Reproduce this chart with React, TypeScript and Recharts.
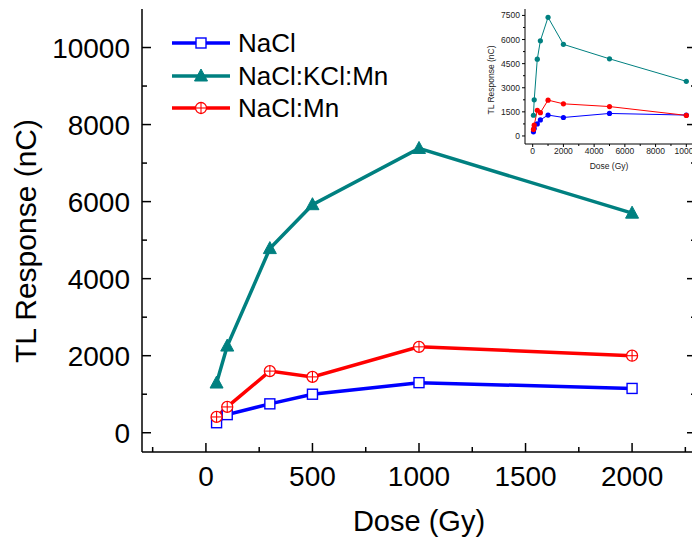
import { Legend, Line, LineChart, XAxis, YAxis } from 'recharts';

// main plot
const mainDoses = [50, 100, 300, 500, 1000, 2000];
const naclMain = [260, 470, 750, 1000, 1300, 1150];
const kclMain = [1290, 2250, 4780, 5920, 7380, 5700];
const mnMain = [410, 670, 1600, 1450, 2230, 2000];

// inset
const insetDoses = [50, 100, 300, 500, 1000, 2000, 5000, 10000];
const naclInset = [260, 470, 750, 1000, 1300, 1150, 1400, 1300];
const kclInset = [1290, 2250, 4780, 5920, 7380, 5700, 4800, 3400];
const mnInset = [410, 670, 1600, 1450, 2230, 2000, 1830, 1280];

const mainXTicks = [-250, 0, 250, 500, 750, 1000, 1250, 1500, 1750, 2000, 2250];
const mainYTicks = [0, 1000, 2000, 3000, 4000, 5000, 6000, 7000, 8000, 9000, 10000];
const insetXTicks = [0, 1000, 2000, 3000, 4000, 5000, 6000, 7000, 8000, 9000, 10000];
const insetYTicks = [0, 750, 1500, 2250, 3000, 3750, 4500, 5250, 6000, 6750, 7500];

const BLUE = '#0000ff';
const TEAL = '#008080';
const RED = '#ff0000';
const FONT = '"Liberation Sans", Arial, Helvetica, sans-serif';

const mainRows = mainDoses.map((d, i) => ({
  dose: d,
  nacl: naclMain[i],
  kcl: kclMain[i],
  mn: mnMain[i],
}));

const insetRows = insetDoses.map((d, i) => ({
  dose: d,
  nacl: naclInset[i],
  kcl: kclInset[i],
  mn: mnInset[i],
}));

const SquareDot = (p: any) => (
  <rect
    key={`sq-${p.index}`}
    x={p.cx - 5}
    y={p.cy - 5}
    width={10}
    height={10}
    fill="#fff"
    stroke={BLUE}
    strokeWidth={1.4}
  />
);

const TriangleDot = (p: any) => (
  <polygon
    key={`tr-${p.index}`}
    points={`${p.cx},${p.cy - 7} ${p.cx - 6.5},${p.cy + 5} ${p.cx + 6.5},${p.cy + 5}`}
    fill={TEAL}
    stroke={TEAL}
    strokeWidth={1}
  />
);

const CirclePlusDot = (p: any) => (
  <g key={`cp-${p.index}`}>
    <circle cx={p.cx} cy={p.cy} r={5.5} fill="#fff" stroke={RED} strokeWidth={1.3} />
    <line x1={p.cx - 5.5} y1={p.cy} x2={p.cx + 5.5} y2={p.cy} stroke={RED} strokeWidth={1.1} />
    <line x1={p.cx} y1={p.cy - 5.5} x2={p.cx} y2={p.cy + 5.5} stroke={RED} strokeWidth={1.1} />
  </g>
);

const smallDot = (color: string) => (p: any) =>
  <circle key={`d-${p.index}`} cx={p.cx} cy={p.cy} r={2.6} fill={color} stroke="none" />;

// ticks drawn inward, like the original Origin plot
const MainBottomTick = (p: any) => {
  const v = p.payload.value;
  const major = v % 500 === 0;
  return (
    <g>
      <line x1={p.x} y1={p.y} x2={p.x} y2={p.y - (major ? 9 : 5)} stroke="#000" strokeWidth={1.5} />
      {major && (
        <text x={p.x} y={p.y + 34} textAnchor="middle" fontSize={28} fontFamily={FONT} fill="#000">
          {v}
        </text>
      )}
    </g>
  );
};

const MainTopTick = (p: any) => {
  const major = p.payload.value % 500 === 0;
  return <line x1={p.x} y1={p.y} x2={p.x} y2={p.y + (major ? 9 : 5)} stroke="#000" strokeWidth={1.5} />;
};

const MainLeftTick = (p: any) => {
  const v = p.payload.value;
  const major = v % 2000 === 0;
  return (
    <g>
      <line x1={p.x} y1={p.y} x2={p.x + (major ? 9 : 5)} y2={p.y} stroke="#000" strokeWidth={1.5} />
      {major && (
        <text x={p.x - 12} y={p.y + 10} textAnchor="end" fontSize={28} fontFamily={FONT} fill="#000">
          {v}
        </text>
      )}
    </g>
  );
};

const MainRightTick = (p: any) => {
  const major = p.payload.value % 2000 === 0;
  return <line x1={p.x} y1={p.y} x2={p.x - (major ? 9 : 5)} y2={p.y} stroke="#000" strokeWidth={1.5} />;
};

const InsetBottomTick = (p: any) => {
  const v = p.payload.value;
  const major = v % 2000 === 0;
  return (
    <g>
      <line x1={p.x} y1={p.y} x2={p.x} y2={p.y + (major ? 3 : 2)} stroke="#000" strokeWidth={1} />
      {major && (
        <text x={p.x} y={p.y + 9.7} textAnchor="middle" fontSize={8.5} fontFamily={FONT} fill="#222">
          {v}
        </text>
      )}
    </g>
  );
};

const InsetLeftTick = (p: any) => {
  const v = p.payload.value;
  const major = v % 1500 === 0;
  return (
    <g>
      <line x1={p.x} y1={p.y} x2={p.x - (major ? 3 : 2)} y2={p.y} stroke="#000" strokeWidth={1} />
      {major && (
        <text x={p.x - 5} y={p.y + 3} textAnchor="end" fontSize={8.5} fontFamily={FONT} fill="#222">
          {v}
        </text>
      )}
    </g>
  );
};

const markerFor = (name: string, cx: number, cy: number) => {
  if (name === 'NaCl') return <SquareDot cx={cx} cy={cy} index={0} />;
  if (name === 'NaCl:KCl:Mn') return <TriangleDot cx={cx} cy={cy} index={0} />;
  return <CirclePlusDot cx={cx} cy={cy} index={0} />;
};

const renderLegend = (props: any) => (
  <div style={{ fontFamily: FONT }}>
    {(props.payload || []).map((entry: any) => (
      <div key={entry.value} style={{ display: 'flex', alignItems: 'center', height: 32.5 }}>
        <svg width={58} height={20} style={{ display: 'block' }}>
          <line x1={0} y1={10} x2={58} y2={10} stroke={entry.color} strokeWidth={3.5} />
          {markerFor(entry.value, 29, 10)}
        </svg>
        <span style={{ marginLeft: 8, fontSize: 26, lineHeight: 1, color: '#000' }}>{entry.value}</span>
      </div>
    ))}
  </div>
);

const axisStroke = { stroke: '#000', strokeWidth: 1.5 };

export default function App() {
  return (
    <div
      style={{
        position: 'absolute',
        left: 0,
        top: 0,
        width: 692,
        height: 541,
        overflow: 'hidden',
        background: '#fff',
        fontFamily: FONT,
      }}
    >
      <LineChart width={720} height={541} data={mainRows} margin={{ top: 9, right: 23, left: 0, bottom: 29 }}>
        <XAxis
          dataKey="dose"
          type="number"
          domain={[-300, 2300]}
          allowDataOverflow
          ticks={mainXTicks}
          interval={0}
          tickSize={0}
          tickMargin={0}
          tick={MainBottomTick}
          axisLine={axisStroke}
          height={60}
          label={{
            content: () => (
              <text x={419} y={531} textAnchor="middle" fontSize={29} fontFamily={FONT} fill="#000">
                Dose (Gy)
              </text>
            ),
          }}
        />
        <XAxis
          xAxisId="top"
          orientation="top"
          dataKey="dose"
          type="number"
          domain={[-300, 2300]}
          allowDataOverflow
          ticks={mainXTicks}
          interval={0}
          tickSize={0}
          tickMargin={0}
          tick={MainTopTick}
          axisLine={axisStroke}
          height={0}
        />
        <YAxis
          type="number"
          domain={[-500, 11000]}
          allowDataOverflow
          ticks={mainYTicks}
          interval={0}
          tickSize={0}
          tickMargin={0}
          tick={MainLeftTick}
          axisLine={axisStroke}
          width={142}
          label={{
            content: () => (
              <text
                x={36}
                y={241}
                transform="rotate(-90, 36, 241)"
                textAnchor="middle"
                fontSize={30}
                fontFamily={FONT}
                fill="#000"
              >
                TL Response (nC)
              </text>
            ),
          }}
        />
        <YAxis
          yAxisId="right"
          orientation="right"
          type="number"
          domain={[-500, 11000]}
          allowDataOverflow
          ticks={mainYTicks}
          interval={0}
          tickSize={0}
          tickMargin={0}
          tick={MainRightTick}
          axisLine={axisStroke}
          width={1}
        />
        <Legend
          layout="vertical"
          align="center"
          verticalAlign="middle"
          content={renderLegend}
          wrapperStyle={{ left: 172, top: 27, width: 'auto', height: 'auto' }}
        />
        <Line
          dataKey="nacl"
          name="NaCl"
          stroke={BLUE}
          strokeWidth={3.5}
          dot={SquareDot}
          isAnimationActive={false}
        />
        <Line
          dataKey="kcl"
          name="NaCl:KCl:Mn"
          stroke={TEAL}
          strokeWidth={3.5}
          dot={TriangleDot}
          isAnimationActive={false}
        />
        <Line
          dataKey="mn"
          name="NaCl:Mn"
          stroke={RED}
          strokeWidth={3.5}
          dot={CirclePlusDot}
          isAnimationActive={false}
        />
      </LineChart>

      <div style={{ position: 'absolute', left: 460, top: 0 }}>
        <LineChart width={250} height={175} data={insetRows} margin={{ top: 9, right: 16, left: 0, bottom: 0 }}>
          <XAxis
            dataKey="dose"
            type="number"
            domain={[-500, 10500]}
            allowDataOverflow
            ticks={insetXTicks}
            interval={0}
            tickSize={0}
            tickMargin={0}
            tick={InsetBottomTick}
            axisLine={{ stroke: '#000', strokeWidth: 1 }}
            height={31}
            label={{
              content: () => (
                <text x={149} y={169} textAnchor="middle" fontSize={8.5} fontFamily={FONT} fill="#222">
                  Dose (Gy)
                </text>
              ),
            }}
          />
          <YAxis
            type="number"
            domain={[-500, 7900]}
            allowDataOverflow
            ticks={insetYTicks}
            interval={0}
            tickSize={0}
            tickMargin={0}
            tick={InsetLeftTick}
            axisLine={{ stroke: '#000', strokeWidth: 1 }}
            width={65}
            label={{
              content: () => (
                <text
                  x={34}
                  y={80}
                  transform="rotate(-90, 34, 80)"
                  textAnchor="middle"
                  fontSize={8.5}
                  fontFamily={FONT}
                  fill="#222"
                >
                  TL Response (nC)
                </text>
              ),
            }}
          />
          <Line dataKey="nacl" stroke={BLUE} strokeWidth={1} dot={smallDot(BLUE)} isAnimationActive={false} />
          <Line dataKey="kcl" stroke={TEAL} strokeWidth={1} dot={smallDot(TEAL)} isAnimationActive={false} />
          <Line dataKey="mn" stroke={RED} strokeWidth={1} dot={smallDot(RED)} isAnimationActive={false} />
        </LineChart>
      </div>
    </div>
  );
}
